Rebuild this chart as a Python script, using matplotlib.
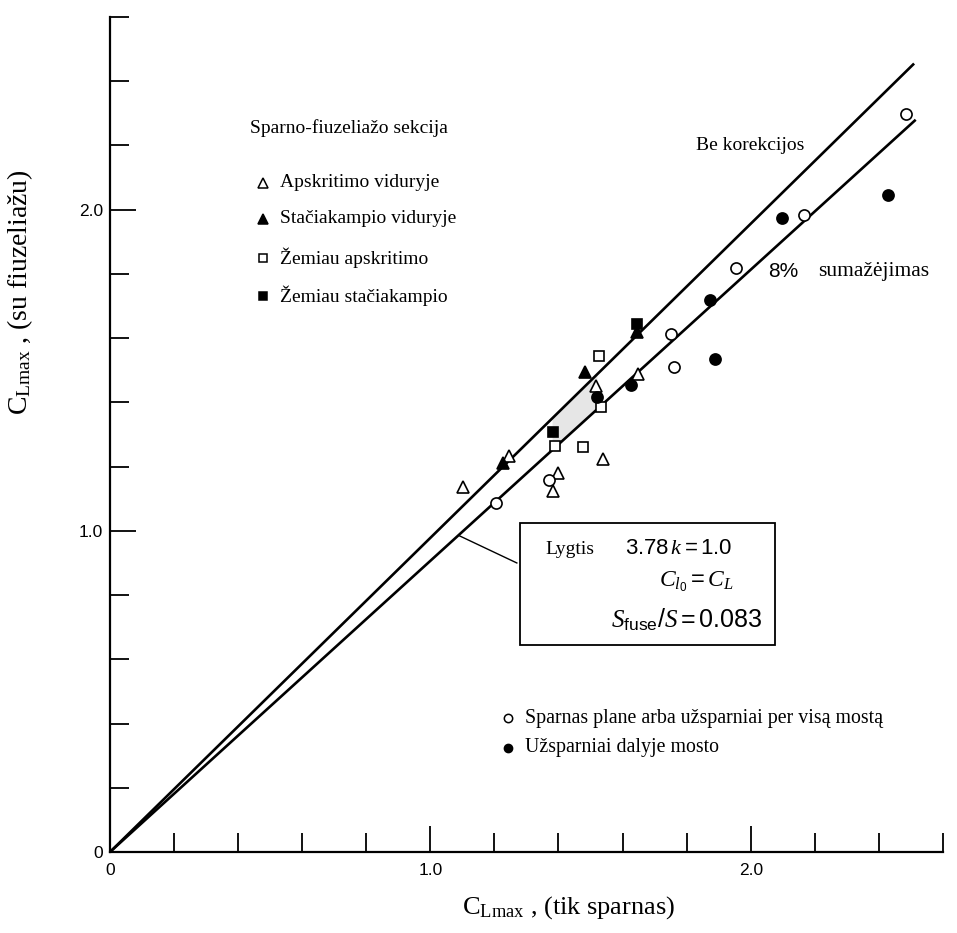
import matplotlib
matplotlib.use("Agg")
import matplotlib.pyplot as plt
from matplotlib.patches import Rectangle

plt.rcParams["font.family"] = ["Liberation Serif", "DejaVu Serif"]
plt.rcParams["mathtext.fontset"] = "custom"
plt.rcParams["mathtext.rm"] = "Liberation Sans"
plt.rcParams["mathtext.sf"] = "Liberation Sans"
plt.rcParams["mathtext.it"] = "Liberation Serif:italic"

# ---- test data: C_Lmax wing alone (x) vs wing + fuselage (y)
open_tri_x = [1.103, 1.247, 1.384, 1.397, 1.516, 1.538, 1.647]
open_tri_y = [1.137, 1.234, 1.125, 1.180, 1.452, 1.224, 1.489]

fill_tri_x = [1.228, 1.484, 1.645]
fill_tri_y = [1.212, 1.495, 1.620]

open_sq_x = [1.388, 1.478, 1.525, 1.534]
open_sq_y = [1.265, 1.262, 1.545, 1.386]

fill_sq_x = [1.384, 1.645]
fill_sq_y = [1.308, 1.645]

open_circ_x = [1.206, 1.369, 1.750, 1.762, 1.953, 2.166, 2.484]
open_circ_y = [1.087, 1.159, 1.614, 1.511, 1.819, 1.984, 2.299]

fill_circ_x = [1.520, 1.625, 1.872, 1.890, 2.097, 2.428]
fill_circ_y = [1.418, 1.455, 1.720, 1.536, 1.975, 2.047]

# reference lines (end points, both from the origin)
no_corr_x = [0.0, 2.51]
no_corr_y = [0.0, 2.455]
reduced_x = [0.0, 2.515]
reduced_y = [0.0, 2.28]

shade_x = [1.38, 1.52]

fig = plt.figure(figsize=(9.57, 9.33), dpi=100)
ax = fig.add_axes([0.1149, 0.0868, 0.8704, 0.895])

ax.plot(no_corr_x, no_corr_y, color="black", lw=1.9, solid_capstyle="butt")
ax.plot(reduced_x, reduced_y, color="black", lw=1.9, solid_capstyle="butt")

# shaded band between the two lines
k_up = no_corr_y[1] / no_corr_x[1]
k_lo = reduced_y[1] / reduced_x[1]
ax.fill_between(shade_x, [k_lo * v for v in shade_x], [k_up * v for v in shade_x],
                color="#e6e6e6", lw=0, zorder=1)

mk = dict(ls="none", mec="black", mew=1.2, ms=8, zorder=3)
ax.plot(open_tri_x, open_tri_y, marker="^", mfc="white", **mk)
ax.plot(fill_tri_x, fill_tri_y, marker="^", mfc="black", **mk)
ax.plot(open_sq_x, open_sq_y, marker="s", mfc="white", **dict(mk, ms=7))
ax.plot(fill_sq_x, fill_sq_y, marker="s", mfc="black", **dict(mk, ms=7))
ax.plot(open_circ_x, open_circ_y, marker="o", mfc="white", **mk)
ax.plot(fill_circ_x, fill_circ_y, marker="o", mfc="black", **mk)

# axes
ax.set_xlim(0, 2.6)
ax.set_ylim(0, 2.6)
for s in ["top", "right"]:
    ax.spines[s].set_visible(False)
for s in ["left", "bottom"]:
    ax.spines[s].set_linewidth(1.6)

ax.set_xticks([0, 1.0, 2.0])
ax.set_xticklabels(["0", "1.0", "2.0"], family="Liberation Sans", fontsize=12.5)
ax.set_xticks([0.2, 0.4, 0.6, 0.8, 1.2, 1.4, 1.6, 1.8, 2.2, 2.4, 2.6], minor=True)
ax.set_yticks([0, 1.0, 2.0])
ax.set_yticklabels(["0", "1.0", "2.0"], family="Liberation Sans", fontsize=12.5)
ax.set_yticks([0.2, 0.4, 0.6, 0.8, 1.2, 1.4, 1.6, 1.8, 2.2, 2.4, 2.6], minor=True)
ax.tick_params(which="both", direction="in", width=1.3, color="black")
ax.tick_params(which="major", length=19)
ax.tick_params(axis="x", which="major", pad=8)
ax.tick_params(axis="y", which="major", pad=5)
ax.tick_params(which="minor", length=14)

ax.set_xlabel(r"$\mathregular{C}_{\mathregular{Lmax}}$ , (tik sparnas)", fontsize=19)
ax.xaxis.set_label_coords(0.551, -0.05)
ax.set_ylabel(r"$\mathregular{C}_{\mathregular{Lmax}}$ , (su fiuzeliažu)", fontsize=20)
ax.yaxis.set_label_coords(-0.09, 0.67)

# section legend (upper left)
fs = 14
ax.text(0.437, 2.255, "Sparno-fiuzeliažo sekcija", fontsize=fs, va="center")
leg_y = [2.084, 1.972, 1.850, 1.732]
leg_txt = ["Apskritimo viduryje", "Stačiakampio viduryje", "Žemiau apskritimo", "Žemiau stačiakampio"]
leg_mk = [("^", "white", 7), ("^", "black", 7), ("s", "white", 5.5), ("s", "black", 5.5)]
for yy, t, (m, fc, ms) in zip(leg_y, leg_txt, leg_mk):
    ax.plot([0.477], [yy], marker=m, mfc=fc, mec="black", mew=1.1, ms=ms, ls="none")
    ax.text(0.53, yy, t, fontsize=fs, va="center")

ax.text(1.83, 2.20, "Be korekcijos", fontsize=fs, va="center")
ax.text(2.053, 1.807, "8%", fontsize=15, va="center", family="Liberation Sans")
ax.text(2.209, 1.807, "sumažėjimas", fontsize=15.5, va="center")

# equation box with leader line
ax.add_patch(Rectangle((1.279, 0.645), 0.796, 0.38, fill=False, ec="black", lw=1.3, zorder=4))
ax.plot([1.092, 1.27], [0.984, 0.900], color="black", lw=1.0)
ax.text(1.36, 0.941, "Lygtis", fontsize=fs, va="center")
ax.text(1.607, 0.941, r"$3.78\,k = 1.0$", fontsize=16, va="center")
ax.text(1.945, 0.841, r"$C_{l_0} = C_L$", fontsize=17, va="center", ha="right")
ax.text(2.034, 0.723, r"$S_{\mathrm{fuse}}/S = 0.083$", fontsize=18, va="center", ha="right")

# flap legend (lower right)
ax.plot([1.242], [0.417], marker="o", mfc="white", mec="black", mew=1.1, ms=6, ls="none")
ax.text(1.295, 0.417, "Sparnas plane arba užsparniai per visą mostą", fontsize=14.3, va="center")
ax.plot([1.242], [0.324], marker="o", mfc="black", mec="black", ms=6, ls="none")
ax.text(1.295, 0.324, "Užsparniai dalyje mosto", fontsize=14.3, va="center")

fig.savefig("out.png", dpi=100)
